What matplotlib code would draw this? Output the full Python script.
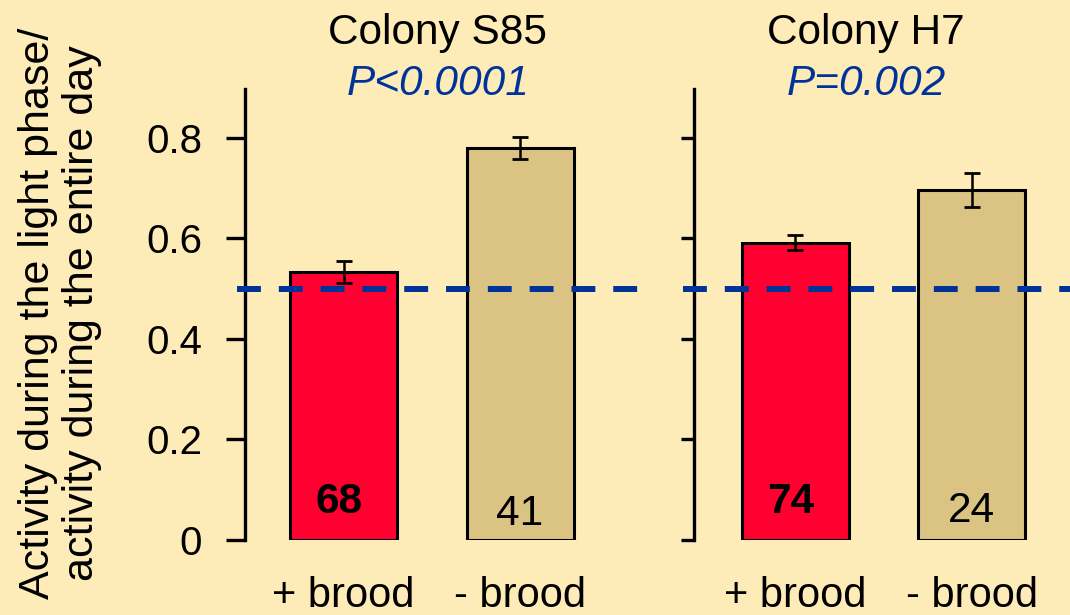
import matplotlib
matplotlib.use("Agg")
import matplotlib.pyplot as plt
import matplotlib.transforms as mtransforms

plt.rcParams['font.family'] = ['Liberation Sans', 'DejaVu Sans']

# ---- data ----
colonies = ["Colony S85", "Colony H7"]
pvalues = ["P<0.0001", "P=0.002"]
groups = ["+ brood", "- brood"]
means_s85 = [0.534, 0.780]
errs_s85 = [0.022, 0.021]
means_h7 = [0.592, 0.697]
errs_h7 = [0.015, 0.034]
n_s85 = ["68", "41"]
n_h7 = ["74", "24"]
reference_level = 0.5
yticks = [0, 0.2, 0.4, 0.6, 0.8]
ytick_labels = ["0", "0.2", "0.4", "0.6", "0.8"]

# ---- style ----
bg = "#FDEBB8"
red = "#FF0030"
tan = "#DBC384"
blue = "#003399"
W, H = 1070, 615

fig = plt.figure(figsize=(W / 100, H / 100), dpi=100, facecolor=bg)


def px_axes(x0, x1, ytop, ybot):
    return fig.add_axes([x0 / W, 1 - ybot / H, (x1 - x0) / W, (ybot - ytop) / H])


unit = 176.5  # pixels per category step
panels = [
    dict(ax=px_axes(245, 639, 89, 540), spine=245, right=639, c0=343.5, dash_start=237,
         means=means_s85, errs=errs_s85, ns=n_s85, title=colonies[0], p=pvalues[0],
         title_x=438, labels=True, ticklen=14),
    dict(ax=px_axes(694, 1070, 89, 540), spine=694, right=1070, c0=795.3, dash_start=683,
         means=means_h7, errs=errs_h7, ns=n_h7, title=colonies[1], p=pvalues[1],
         title_x=866, labels=False, ticklen=9.5),
]

for pn in panels:
    ax = pn["ax"]
    ax.set_facecolor(bg)
    xs = list(range(len(groups)))
    ax.bar(xs, pn["means"], width=107 / unit, color=[red, tan], edgecolor="black",
           linewidth=2.2, zorder=2)
    ax.errorbar(xs, pn["means"], yerr=pn["errs"], fmt="none", ecolor="black",
                elinewidth=1.8, capsize=5.6, capthick=2.0, zorder=3)
    xl = (-(pn["c0"] - pn["spine"]) / unit, (pn["right"] - pn["c0"]) / unit)
    ax.set_xlim(*xl)
    ax.set_ylim(0, 0.8975)
    xd0 = (pn["dash_start"] - pn["c0"]) / unit
    ln, = ax.plot([xd0, xl[1]], [reference_level, reference_level], color=blue,
                  linewidth=4.3, clip_on=False, zorder=5, solid_capstyle="butt")
    ln.set_dashes([4, 3])
    ln.set_dash_capstyle("butt")
    for s in ["top", "right", "bottom"]:
        ax.spines[s].set_visible(False)
    ax.spines["left"].set_linewidth(2.4)
    ax.set_xticks([])
    ax.set_yticks(yticks)
    if pn["labels"]:
        ax.set_yticklabels(ytick_labels, fontsize=29)
    else:
        ax.set_yticklabels([])
    ax.tick_params(axis="y", direction="out", length=pn["ticklen"], width=2.4, pad=17)
    # n values inside bars
    base_bold = 27 / 502.5
    base_norm = [0.0299, 0.0358][0 if pn["labels"] else 1]
    ax.text(xs[0] - 0.025, base_bold, pn["ns"][0], ha="center", va="baseline", fontsize=30.5,
            fontweight="bold", zorder=4)
    ax.text(xs[1], base_norm, pn["ns"][1], ha="center", va="baseline", fontsize=30.5,
            zorder=4)
    # group labels below
    tb = mtransforms.blended_transform_factory(ax.transData, ax.transAxes)
    for x, g in zip(xs, groups):
        ax.text(x, (540 - 607) / 451, g, transform=tb, ha="center", va="baseline",
                fontsize=30, clip_on=False)
    # titles
    fig.text(pn["title_x"] / W, 1 - 44 / H, pn["title"], ha="center", va="baseline",
             fontsize=30.5, color="black")
    fig.text(pn["title_x"] / W, 1 - 95 / H, pn["p"], ha="center", va="baseline",
             fontsize=30.5, color=blue, style="italic")

fig.text(60 / W, 1 - 313 / H,
         "Activity during the light phase/\nactivity during the entire day",
         rotation=90, ha="center", va="center", fontsize=31, linespacing=1.1)

fig.savefig("out.png", dpi=100, facecolor=bg)
